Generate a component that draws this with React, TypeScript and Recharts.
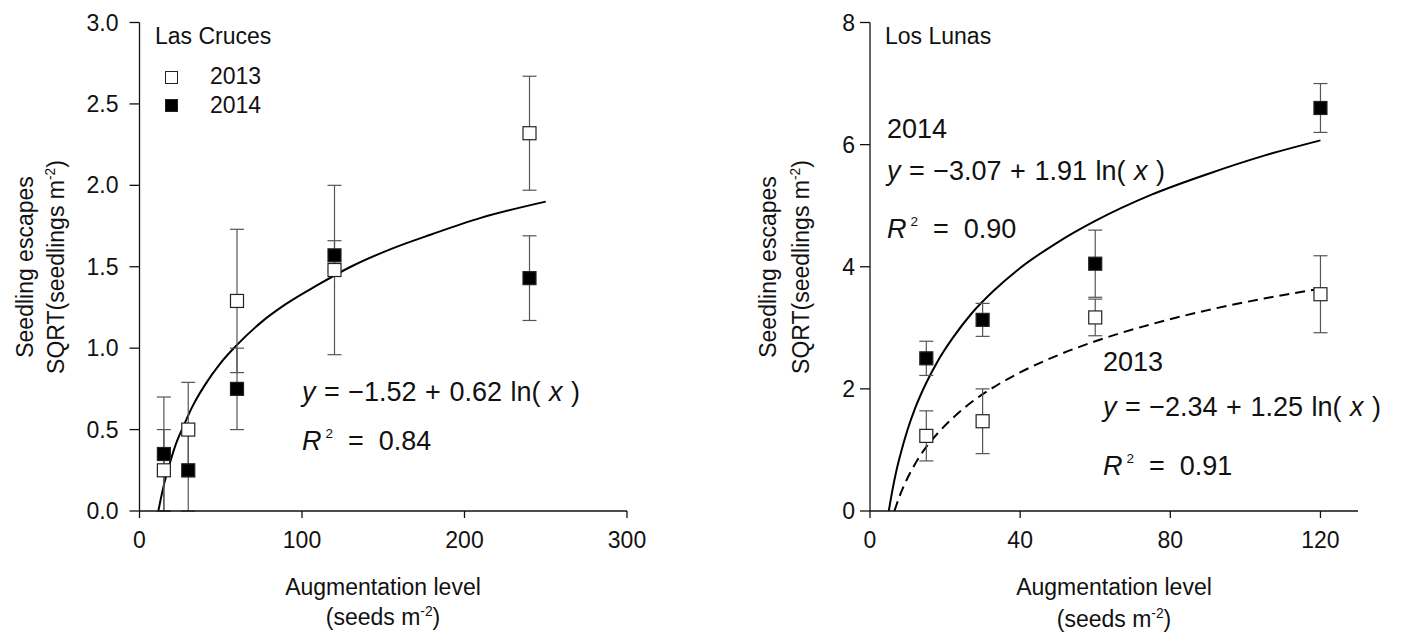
import React from 'react';
import { ComposedChart, Scatter, Line, XAxis, YAxis, ErrorBar } from 'recharts';

const font = '"Liberation Sans", Arial, Helvetica, sans-serif';

// Las Cruces
const cruLevels = [15, 30, 60, 120, 240];
const cru2013 = [0.25, 0.5, 1.29, 1.48, 2.32];
const cru2013Err = [0.25, 0.29, 0.44, 0.52, 0.35];
const cru2014 = [0.35, 0.25, 0.75, 1.57, 1.43];
const cru2014Err = [0.35, 0.25, 0.25, 0.09, 0.26];
const cruFitX = [11.6, 13, 15, 18, 22, 27, 33, 40, 50, 60, 75, 90, 110, 130, 155, 180, 210, 250];
const cruFitY = [0, 0.07, 0.16, 0.27, 0.4, 0.52, 0.65, 0.77, 0.91, 1.02, 1.16, 1.27, 1.39, 1.5, 1.61, 1.7, 1.8, 1.9];
const cruXTicks = [0, 100, 200, 300];
const cruYTicks = [0, 0.5, 1, 1.5, 2, 2.5, 3];

// Los Lunas
const lunLevels = [15, 30, 60, 120];
const lun2013 = [1.23, 1.47, 3.17, 3.55];
const lun2013Err = [0.41, 0.53, 0.3, 0.63];
const lun2014 = [2.5, 3.13, 4.05, 6.6];
const lun2014Err = [0.28, 0.27, 0.55, 0.4];
const lunFit14X = [5, 6, 7, 8, 10, 12, 15, 18, 22, 27, 33, 40, 50, 60, 75, 90, 105, 120];
const lunFit14Y = [0, 0.35, 0.65, 0.9, 1.33, 1.68, 2.1, 2.45, 2.83, 3.23, 3.61, 3.98, 4.4, 4.75, 5.18, 5.52, 5.82, 6.07];
const lunFit13X = [6.5, 7, 8, 10, 12, 15, 18, 22, 27, 33, 40, 50, 60, 75, 90, 105, 120];
const lunFit13Y = [0, 0.09, 0.26, 0.54, 0.77, 1.05, 1.27, 1.52, 1.78, 2.03, 2.27, 2.55, 2.78, 3.06, 3.29, 3.48, 3.64];
const lunXTicks = [0, 40, 80, 120];
const lunYTicks = [0, 2, 4, 6, 8];

const pts = (xs: number[], ys: number[], errs?: number[]) =>
  xs.map((x, i) => ({ x, y: ys[i], err: errs ? errs[i] : 0 }));

const square = (filled: boolean) => (props: any) => {
  const { cx, cy } = props;
  if (cx == null || cy == null) return <g />;
  return (
    <rect x={cx - 6.5} y={cy - 6.5} width={13} height={13}
      fill={filled ? '#000' : '#fff'} stroke="#222" strokeWidth={1.2} />
  );
};

const axisStroke = { stroke: '#111', strokeWidth: 1.3 };
const tickStyle = { fill: '#111', fontSize: 23, fontFamily: font };

const Txt = ({ x, y, size = 23, center = false, children }: any) => (
  <div style={{
    position: 'absolute', left: x, top: y, fontSize: size, lineHeight: 1, whiteSpace: 'pre',
    transform: center ? 'translate(-50%, -50%)' : 'translateY(-50%)',
  }}>{children}</div>
);

const VTxt = ({ x, y, children }: any) => (
  <div style={{
    position: 'absolute', left: x, top: y, fontSize: 23, lineHeight: 1, whiteSpace: 'pre',
    transform: 'translate(-50%, -50%) rotate(-90deg)',
  }}>{children}</div>
);

const sup = (s: string) => <sup style={{ fontSize: '0.6em', verticalAlign: '0.65em' }}>{s}</sup>;

const Equation = ({ a, b }: { a: string; b: string }) => (
  <span style={{ wordSpacing: 1 }}>
    <i>y</i> = −{a} + {b} ln( <i>x</i> )
  </span>
);

const RSq = ({ v }: { v: string }) => (
  <span><i>R</i><sup style={{ fontSize: '0.5em', verticalAlign: '0.9em', marginLeft: 4 }}>2</sup>  =  {v}</span>
);

const Box = ({ x, y, filled }: any) => (
  <div style={{
    position: 'absolute', left: x, top: y, width: 11, height: 11,
    background: filled ? '#000' : '#fff', border: '1px solid #222',
  }} />
);

export default function App() {
  return (
    <div style={{
      position: 'absolute', left: 0, top: 0, width: 1403, height: 635,
      background: '#fff', fontFamily: font, color: '#111', overflow: 'hidden',
    }}>
      <div style={{ position: 'absolute', left: 0, top: 0 }}>
        <ComposedChart width={700} height={635} margin={{ top: 22.5, right: 73, bottom: 94, left: 0 }}>
          <XAxis type="number" dataKey="x" domain={[0, 300]} ticks={cruXTicks} interval={0}
            allowDataOverflow tickSize={7} tickMargin={14} height={30}
            axisLine={axisStroke} tickLine={axisStroke} tick={tickStyle} />
          <YAxis type="number" dataKey="y" domain={[0, 3]} ticks={cruYTicks} interval={0}
            allowDataOverflow tickSize={10} tickMargin={11} width={139.5}
            tickFormatter={(v: number) => v.toFixed(1)}
            axisLine={axisStroke} tickLine={axisStroke} tick={tickStyle} />
          <Line data={pts(cruFitX, cruFitY)} dataKey="y" type="monotone" dot={false}
            stroke="#000" strokeWidth={2} isAnimationActive={false} />
          <Scatter data={pts(cruLevels, cru2013, cru2013Err)} dataKey="y" shape={square(false)} isAnimationActive={false}>
            <ErrorBar dataKey="err" direction="y" width={7} stroke="#555" strokeWidth={1.2} />
          </Scatter>
          <Scatter data={pts(cruLevels, cru2014, cru2014Err)} dataKey="y" shape={square(true)} isAnimationActive={false}>
            <ErrorBar dataKey="err" direction="y" width={7} stroke="#555" strokeWidth={1.2} />
          </Scatter>
        </ComposedChart>
      </div>

      <div style={{ position: 'absolute', left: 700, top: 0 }}>
        <ComposedChart width={703} height={635} margin={{ top: 22.5, right: 45, bottom: 94, left: 0 }}>
          <XAxis type="number" dataKey="x" domain={[0, 130]} ticks={lunXTicks} interval={0}
            allowDataOverflow tickSize={7} tickMargin={14} height={30}
            axisLine={axisStroke} tickLine={axisStroke} tick={tickStyle} />
          <YAxis type="number" dataKey="y" domain={[0, 8]} ticks={lunYTicks} interval={0}
            allowDataOverflow tickSize={10} tickMargin={5} width={170}
            axisLine={axisStroke} tickLine={axisStroke} tick={tickStyle} />
          <Line data={pts(lunFit14X, lunFit14Y)} dataKey="y" type="monotone" dot={false}
            stroke="#000" strokeWidth={2} isAnimationActive={false} />
          <Line data={pts(lunFit13X, lunFit13Y)} dataKey="y" type="monotone" dot={false}
            stroke="#000" strokeWidth={2} strokeDasharray="10 6" isAnimationActive={false} />
          <Scatter data={pts(lunLevels, lun2013, lun2013Err)} dataKey="y" shape={square(false)} isAnimationActive={false}>
            <ErrorBar dataKey="err" direction="y" width={7} stroke="#555" strokeWidth={1.2} />
          </Scatter>
          <Scatter data={pts(lunLevels, lun2014, lun2014Err)} dataKey="y" shape={square(true)} isAnimationActive={false}>
            <ErrorBar dataKey="err" direction="y" width={7} stroke="#555" strokeWidth={1.2} />
          </Scatter>
        </ComposedChart>
      </div>

      {/* Las Cruces texts */}
      <Txt x={155} y={36}>Las Cruces</Txt>
      <Box x={165} y={71} filled={false} />
      <Txt x={210} y={76}>2013</Txt>
      <Box x={165} y={99} filled />
      <Txt x={210} y={105}>2014</Txt>
      <Txt x={302} y={392} size={27}><Equation a="1.52" b="0.62" /></Txt>
      <Txt x={302} y={441} size={27}><RSq v="0.84" /></Txt>
      <VTxt x={25} y={267}>Seedling escapes</VTxt>
      <VTxt x={56} y={267}>SQRT(seedlings m{sup('-2')})</VTxt>
      <Txt x={383} y={587} center>Augmentation level</Txt>
      <Txt x={383} y={617} center>(seeds m{sup('-2')})</Txt>

      {/* Los Lunas texts */}
      <Txt x={885} y={36}>Los Lunas</Txt>
      <Txt x={887} y={129} size={27}>2014</Txt>
      <Txt x={887} y={171} size={27}><Equation a="3.07" b="1.91" /></Txt>
      <Txt x={887} y={229} size={27}><RSq v="0.90" /></Txt>
      <Txt x={1103} y={362} size={27}>2013</Txt>
      <Txt x={1103} y={407} size={27}><Equation a="2.34" b="1.25" /></Txt>
      <Txt x={1103} y={466} size={27}><RSq v="0.91" /></Txt>
      <VTxt x={768} y={267}>Seedling escapes</VTxt>
      <VTxt x={801} y={267}>SQRT(seedlings m{sup('-2')})</VTxt>
      <Txt x={1114} y={587} center>Augmentation level</Txt>
      <Txt x={1114} y={619} center>(seeds m{sup('-2')})</Txt>
    </div>
  );
}
